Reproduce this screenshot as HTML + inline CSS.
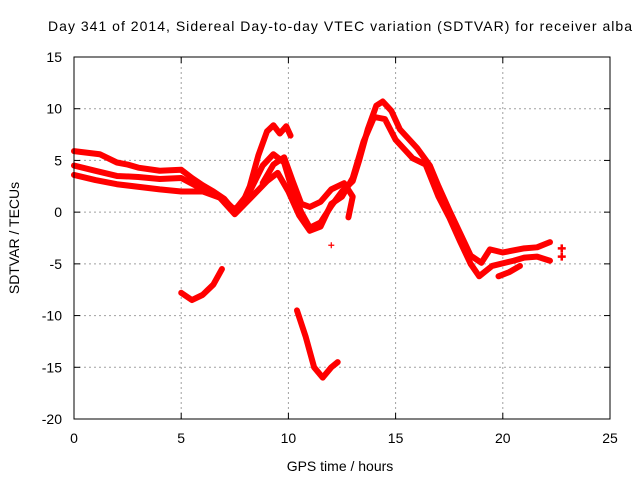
<!DOCTYPE html>
<html><head><meta charset="utf-8"><style>
body{margin:0;background:#fff}
svg{display:block;font-family:"Liberation Sans",sans-serif;font-size:14px}
</style></head><body>
<svg id="chart" width="640" height="480">
<text x="340" y="31" text-anchor="middle" textLength="584">Day 341 of 2014, Sidereal Day-to-day VTEC variation (SDTVAR) for receiver alba</text>
<text x="340" y="471" text-anchor="middle">GPS time / hours</text>
<text transform="translate(19,238) rotate(-90)" text-anchor="middle">SDTVAR / TECUs</text>
<g id="grid"></g><g id="series"></g>
<rect x="74" y="57" width="536" height="362" fill="none" stroke="#000"/>
</svg>
<script>
const xTicks=[0,5,10,15,20,25];
const yTicks=[15,10,5,0,-5,-10,-15,-20];
const trackA=[[0,5.9],[1.2,5.6],[2,4.8],[2.5,4.6],[3,4.3],[4,4],[5,4.1],[5.5,3.3],[6,2.6],[6.5,2],[7,1.3],[7.4,0.3],[7.8,0.6],[8.2,2.5],[8.6,5.5],[9,7.8],[9.3,8.4],[9.6,7.6],[9.9,8.3],[10.1,7.4]];
const trackB=[[0,4.5],[1,4],[2,3.5],[3,3.4],[4,3.2],[5,3.3],[6,2.2],[7,1.2],[7.5,0.2],[8.2,2],[8.8,4.5],[9.3,5.6],[9.8,4.8],[10.2,2],[10.6,0],[11,-1.5],[11.5,-1],[12,0.6],[12.5,2],[13,3],[13.3,5],[13.7,8],[14.1,10.3],[14.4,10.7],[14.8,9.8],[15.2,8],[16,6.2],[16.6,4.5],[17,2.5],[17.5,0.2],[18,-2],[18.5,-4.2],[19,-4.9],[19.4,-3.6],[20,-3.9],[21,-3.5],[21.6,-3.4],[22.2,-2.9]];
const trackC=[[0,3.6],[1,3.1],[2,2.7],[4,2.2],[5,2],[6,2],[6.8,1.4],[7.5,-0.2],[8.3,1.5],[9,3],[9.5,3.8],[10,2],[10.5,-0.3],[11,-1.8],[11.5,-1.4],[12,0.8],[12.5,1.5],[13,3.3],[13.5,6.8],[14,9.2],[14.5,9],[15,7],[15.8,5.2],[16.4,4.6],[17,1.5],[17.5,-0.5],[18,-2.8],[18.5,-5],[18.9,-6.2],[19.5,-5.2],[20.5,-4.7],[21,-4.4],[21.6,-4.3],[22.2,-4.7]];
const trackD=[[8.8,2.8],[9.3,4.6],[9.8,5.3],[10.2,3],[10.6,0.8],[11,0.5],[11.5,1],[12,2.2],[12.6,2.8],[13,1.5],[12.8,-0.5]];
const trackG=[[19.8,-6.2],[20.3,-5.8],[20.8,-5.2]];
const trackE=[[5,-7.8],[5.5,-8.5],[6,-8],[6.5,-7],[6.9,-5.5]];
const trackF=[[10.4,-9.5],[10.8,-12],[11.2,-15],[11.6,-16],[12,-15],[12.3,-14.5]];
const points=[[12,-3.2],[22.75,-3.5],[22.75,-4.3]];
const NS="http://www.w3.org/2000/svg";
const X=v=>74+v*536/25, Y=v=>57+(15-v)*362/35;
const grid=document.getElementById('grid'), ser=document.getElementById('series');
function mk(t,a,p){const e=document.createElementNS(NS,t);for(const k in a)e.setAttribute(k,a[k]);p.appendChild(e);return e;}
xTicks.forEach(t=>{
 if(t>0&&t<25){const l=mk('line',{x1:X(t),x2:X(t),y1:57,y2:419,stroke:'#a0a0a0','stroke-dasharray':'2,3'},grid);
 
 }
 mk('line',{x1:X(t),x2:X(t),y1:419,y2:413,stroke:'#000'},grid);
 mk('line',{x1:X(t),x2:X(t),y1:57,y2:63,stroke:'#000'},grid);
 const tx=mk('text',{x:X(t),y:443,'text-anchor':'middle'},grid);tx.textContent=t;
 
 
});
yTicks.forEach(t=>{
 if(t<15&&t>-20){const l=mk('line',{x1:74,x2:610,y1:Y(t),y2:Y(t),stroke:'#a0a0a0','stroke-dasharray':'2,3'},grid);
 
 }
 mk('line',{x1:74,x2:80,y1:Y(t),y2:Y(t),stroke:'#000'},grid);
 mk('line',{x1:604,x2:610,y1:Y(t),y2:Y(t),stroke:'#000'},grid);
 const tx=mk('text',{x:62,y:Y(t)+5,'text-anchor':'end'},grid);tx.textContent=t;
 
 
});
[trackA,trackB,trackC,trackD,trackE,trackF,trackG].forEach(tr=>{
 const p=mk('polyline',{points:tr.map(d=>X(d[0])+','+Y(d[1])).join(' '),fill:'none',stroke:'#f00','stroke-width':6,'stroke-linejoin':'round','stroke-linecap':'round'},ser);
 
 
});
points.forEach((d,i)=>{
 const s=i?4:3;
 const p=mk('path',{d:`M${X(d[0])-s},${Y(d[1])}h${2*s}M${X(d[0])},${Y(d[1])-s}v${2*s}`,stroke:'#f00','stroke-width':i?2.5:1.2},ser);
 
 
});
</script>
</body></html>
